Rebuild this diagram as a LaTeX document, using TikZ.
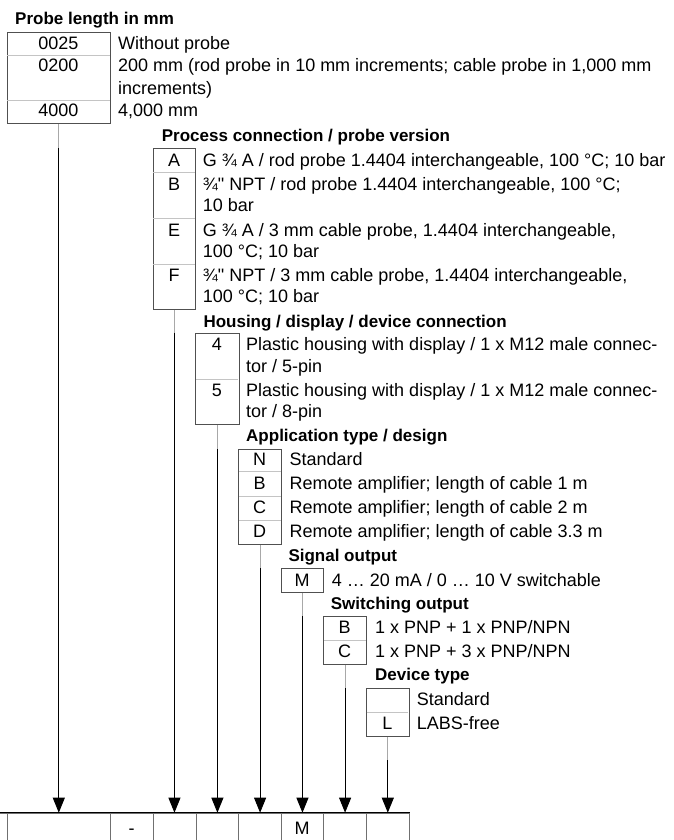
\documentclass[tikz,border=0pt]{standalone}
\usepackage{fontspec}
\setmainfont{Liberation Sans}[Ligatures=TeXOff]
\usetikzlibrary{arrows.meta}
\definecolor{boxc}{HTML}{505050}
\definecolor{divc}{HTML}{C4C4C4}
\definecolor{linkc}{HTML}{A8A8A8}
\definecolor{cellc}{HTML}{707070}
\begin{document}
\begin{tikzpicture}[x=1pt,y=-1pt,
  body/.style={font=\fontsize{18}{22}\selectfont, inner sep=0pt, anchor=base west},
  code/.style={font=\fontsize{18}{22}\selectfont, inner sep=0pt, anchor=base},
  head/.style={font=\fontsize{17}{20}\selectfont\bfseries, inner sep=0pt, anchor=base west},
  cbox/.style={draw=boxc, line width=0.9pt, anchor=north west, inner sep=0pt},
  divline/.style={draw=divc, line width=0.9pt},
  cell/.style={draw=cellc, line width=0.9pt, anchor=north west, inner sep=0pt, minimum height=40pt},
  link/.style={draw=linkc, line width=0.9pt},
  arr/.style={draw=black, line width=0.9pt, -{Triangle[width=12pt,length=15pt]}}
]
\useasboundingbox (0,0) rectangle (673,840);

% ---------- Section 1: Probe length ----------
\node[head] (h1) at (15,25) {Probe length in mm};
\node[cbox, minimum width=103.3pt, minimum height=91pt] (b1) at (6.7,32) {};
\draw[divline] (7.2,55) -- (109.5,55);
\draw[divline] (7.2,100) -- (109.5,100);
\node[code] (v11) at (58.3,49.3) {0025};
\node[body] (t11) at (118,49.3) {Without probe};
\node[code] (v12) at (58.3,71.7) {0200};
\node[body] (t12) at (118,71.7) {200 mm (rod probe in 10 mm increments; cable probe in 1,000 mm};
\node[body] (t12b) at (118,94.2) {increments)};
\node[code] (v13) at (58.3,116.7) {4000};
\node[body] (t13) at (118,116.7) {4,000 mm};

% ---------- Section 2: Process connection ----------
\node[head] (h2) at (161.7,141.5) {Process connection / probe version};
\node[cbox, minimum width=42.6pt, minimum height=161pt] (b2) at (152.7,148.3) {};
\draw[divline] (153.2,172.3) -- (194.8,172.3);
\draw[divline] (153.2,218.3) -- (194.8,218.3);
\draw[divline] (153.2,264) -- (194.8,264);
\node[code] (v21) at (174,166) {A};
\node[body] (t21) at (202.7,166) {G ¾ A / rod probe 1.4404 interchangeable, 100 °C; 10 bar};
\node[code] (v22) at (174,190) {B};
\node[body] (t22) at (202.7,190) {¾" NPT / rod probe 1.4404 interchangeable, 100 °C;};
\node[body] (t22b) at (202.7,211.7) {10 bar};
\node[code] (v23) at (174,236) {E};
\node[body] (t23) at (202.7,236) {G ¾ A / 3 mm cable probe, 1.4404 interchangeable,};
\node[body] (t23b) at (202.7,257.7) {100 °C; 10 bar};
\node[code] (v24) at (174,281) {F};
\node[body] (t24) at (202.7,281) {¾" NPT / 3 mm cable probe, 1.4404 interchangeable,};
\node[body] (t24b) at (202.7,302.7) {100 °C; 10 bar};

% ---------- Section 3: Housing ----------
\node[head] (h3) at (203.3,327.2) {Housing / display / device connection};
\node[cbox, minimum width=43.3pt, minimum height=91.3pt] (b3) at (195.3,332.7) {};
\draw[divline] (195.8,379) -- (238.1,379);
\node[code] (v31) at (217,350) {4};
\node[body] (t31) at (246,350) {Plastic housing with display / 1 x M12 male connec-};
\node[body] (t31b) at (246,372.7) {tor / 5-pin};
\node[code] (v32) at (217,396) {5};
\node[body] (t32) at (246,396) {Plastic housing with display / 1 x M12 male connec-};
\node[body] (t32b) at (246,417.7) {tor / 8-pin};

% ---------- Section 4: Application type ----------
\node[head] (h4) at (246,441.5) {Application type / design};
\node[cbox, minimum width=42.7pt, minimum height=94.7pt] (b4) at (238.3,449.3) {};
\draw[divline] (238.8,471.7) -- (280.5,471.7);
\draw[divline] (238.8,496.7) -- (280.5,496.7);
\draw[divline] (238.8,520) -- (280.5,520);
\node[code] (v41) at (259.6,465) {N};
\node[body] (t41) at (289.3,465) {Standard};
\node[code] (v42) at (259.6,489.4) {B};
\node[body] (t42) at (289.3,489.4) {Remote amplifier; length of cable 1 m};
\node[code] (v43) at (259.6,513.4) {C};
\node[body] (t43) at (289.3,513.4) {Remote amplifier; length of cable 2 m};
\node[code] (v44) at (259.6,537.7) {D};
\node[body] (t44) at (289.3,537.7) {Remote amplifier; length of cable 3.3 m};

% ---------- Section 5: Signal output ----------
\node[head] (h5) at (288.3,561.5) {Signal output};
\node[cbox, minimum width=42.6pt, minimum height=24pt] (b5) at (280.7,568.3) {};
\node[code] (v51) at (302,586) {M};
\node[body] (t51) at (331.7,586) {4 … 20 mA / 0 … 10 V switchable};

% ---------- Section 6: Switching output ----------
\node[head] (h6) at (330.7,609) {Switching output};
\node[cbox, minimum width=42.7pt, minimum height=48pt] (b6) at (323.3,616) {};
\draw[divline] (323.8,640.7) -- (365.5,640.7);
\node[code] (v61) at (344.7,633.4) {B};
\node[body] (t61) at (375,633.4) {1 x PNP + 1 x PNP/NPN};
\node[code] (v62) at (344.7,657.7) {C};
\node[body] (t62) at (375,657.7) {1 x PNP + 3 x PNP/NPN};

% ---------- Section 7: Device type ----------
\node[head] (h7) at (375,680.5) {Device type};
\node[cbox, minimum width=42.7pt, minimum height=47.7pt] (b7) at (366,688.3) {};
\draw[divline] (366.5,712.3) -- (408.2,712.3);
\node[body] (t71) at (416.7,705) {Standard};
\node[code] (v72) at (387.3,729.4) {L};
\node[body] (t72) at (416.7,729.4) {LABS-free};

% ---------- Bottom code row ----------
\node[cell, minimum width=40pt] (c0) at (-33.3,812.7) {};
\node[cell, minimum width=103.3pt] (c1) at (6.7,812.7) {};
\node[cell, minimum width=42.7pt] (c2) at (110,812.7) {};
\node[cell, minimum width=43pt] (c3) at (152.7,812.7) {};
\node[cell, minimum width=42.6pt] (c4) at (195.7,812.7) {};
\node[cell, minimum width=42.7pt] (c5) at (238.3,812.7) {};
\node[cell, minimum width=42.3pt] (c6) at (281,812.7) {};
\node[cell, minimum width=42.7pt] (c7) at (323.3,812.7) {};
\node[cell, minimum width=42.7pt] (c8) at (366,812.7) {};
\draw[black, line width=0.9pt] (c0.north west) -- (c8.north east);
\node[code] (d2) at (131.5,834.7) {-};
\node[code] (d6) at (302,834.7) {M};

% ---------- Connectors ----------
\coordinate (end7) at (387.35,760);
\draw[link] (b1.south) -- (b1.south |- b2.north) coordinate (k1);
\draw[arr] (k1) -- (k1 |- c1.north);
\draw[link] (b2.south) -- (b2.south |- b3.north) coordinate (k2);
\draw[arr] (k2) -- (k2 |- c3.north);
\draw[link] (b3.south) -- (b3.south |- b4.north) coordinate (k3);
\draw[arr] (k3) -- (k3 |- c4.north);
\draw[link] (b4.south) -- (b4.south |- b5.north) coordinate (k4);
\draw[arr] (k4) -- (k4 |- c5.north);
\draw[link] (b5.south) -- (b5.south |- b6.north) coordinate (k5);
\draw[arr] (k5) -- (k5 |- c6.north);
\draw[link] (b6.south) -- (b6.south |- b7.north) coordinate (k6);
\draw[arr] (k6) -- (k6 |- c7.north);
\draw[link] (b7.south) -- (b7.south |- end7) coordinate (k7);
\draw[arr] (k7) -- (k7 |- c8.north);
\end{tikzpicture}
\end{document}
